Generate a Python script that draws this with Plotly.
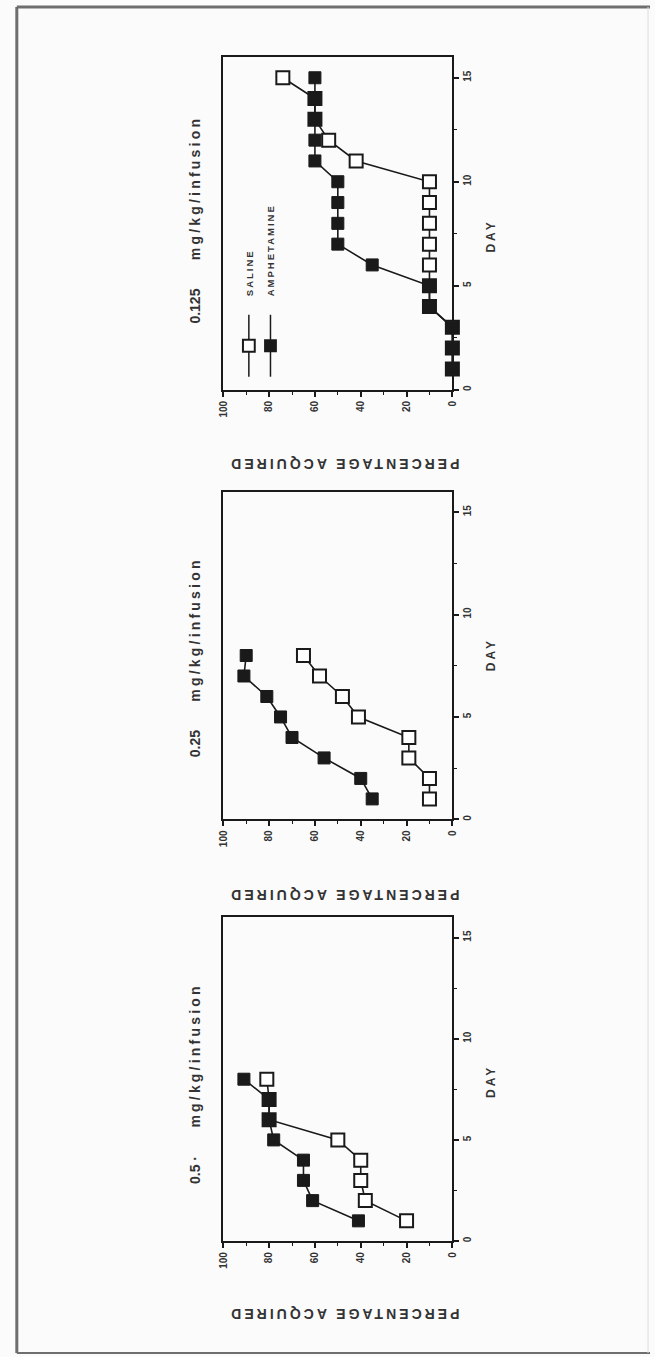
import plotly.graph_objects as go

# ---------------- data ----------------
days_125 = list(range(1, 16))
saline_125 = [0, 0, 0, 10, 10, 10, 10, 10, 10, 10, 42, 54, 60, 60, 74]
amph_125 = [0, 0, 0, 10, 10, 35, 50, 50, 50, 50, 60, 60, 60, 60, 60]

days_25 = list(range(1, 9))
saline_25 = [10, 10, 19, 19, 41, 48, 58, 65]
amph_25 = [35, 40, 56, 70, 75, 81, 91, 90]

days_5 = list(range(1, 9))
saline_5 = [20, 38, 40, 40, 50, 80, 80, 81]
amph_5 = [41, 61, 65, 65, 78, 80, 80, 91]

dose_labels = ["0.125", "0.25", "0.5 \u00b7"]
series_names = ["SALINE", "AMPHETAMINE"]
pct_title = "PERCENTAGE ACQUIRED"
day_title = "DAY"
unit_label = "mg/kg/infusion"

# ---------------- layout helpers ----------------
W, H = 655, 1357
def px(x):
    return x / W
def py(y):
    return 1 - y / H

INK = "#1a1a1a"
TXT = "#333333"
BG = "#fbfbfb"
FONT = "Liberation Sans, Arial, sans-serif"

def bold(s, spacing=0):
    style = "font-weight:bold;"
    if spacing:
        style += "letter-spacing:%gpx;" % spacing
    return '<span style="%s">%s</span>' % (style, s)

# panel boxes in pixels: (top, bottom)
boxes = [(57, 390), (492, 820), (918, 1242)]
x_left, x_right = 221, 454

panels = [
    (days_125, saline_125, amph_125),
    (days_25, saline_25, amph_25),
    (days_5, saline_5, amph_5),
]

pct_ticks = [0, 20, 40, 60, 80, 100]
day_ticks = [0, 5, 10, 15]

fig = go.Figure()
layout_axes = {}
for i, (days, sal, amp) in enumerate(panels):
    n = "" if i == 0 else str(i + 1)
    xa, ya = "x" + n, "y" + n
    fig.add_trace(go.Scatter(
        x=sal, y=days, xaxis=xa, yaxis=ya, mode="lines+markers",
        name=series_names[0], showlegend=False, cliponaxis=False,
        line=dict(color=INK, width=1.6),
        marker=dict(symbol="square", size=13, color="white",
                    line=dict(color=INK, width=2)),
    ))
    fig.add_trace(go.Scatter(
        x=amp, y=days, xaxis=xa, yaxis=ya, mode="lines+markers",
        name=series_names[1], showlegend=False, cliponaxis=False,
        line=dict(color=INK, width=1.6),
        marker=dict(symbol="square", size=12, color=INK,
                    line=dict(color=INK, width=1)),
    ))
    top, bot = boxes[i]
    layout_axes["xaxis" + n] = dict(
        domain=[px(x_left), px(x_right)], range=[100, 0], anchor=ya,
        showline=True, mirror=True, linecolor=INK, linewidth=2.2,
        ticks="outside", ticklen=5, tickwidth=1.6, tickcolor=INK,
        tickmode="array", tickvals=pct_ticks,
        ticktext=[bold(str(v)) for v in pct_ticks], tickangle=-90,
        tickfont=dict(family=FONT, size=10, color=TXT),
        minor=dict(dtick=10, ticks="outside", ticklen=3, tickwidth=1.2, tickcolor=INK),
        showgrid=False, zeroline=False,
    )
    layout_axes["yaxis" + n] = dict(
        domain=[py(bot), py(top)], range=[0, 16], anchor=xa, side="right",
        showline=True, mirror=True, linecolor=INK, linewidth=2.2,
        ticks="outside", ticklen=5, tickwidth=1.6, tickcolor=INK,
        tickmode="array", tickvals=day_ticks,
        ticktext=[bold(str(v)) for v in day_ticks], tickangle=-90,
        tickfont=dict(family=FONT, size=10, color=TXT),
        minor=dict(dtick=2.5, ticks="outside", ticklen=3, tickwidth=1.2, tickcolor=INK),
        showgrid=False, zeroline=False,
    )

annotations = []
# panel titles (rotated, reading bottom to top)
title_centers = [220, 658, 1084]
for lab, cy in zip(dose_labels, title_centers):
    annotations.append(dict(
        x=px(192), y=py(cy), xref="paper", yref="paper",
        text=bold(lab) + bold("\u00a0\u00a0\u00a0\u00a0" + unit_label, 3.2),
        textangle=-90, showarrow=False, xanchor="center", yanchor="middle",
        font=dict(family=FONT, size=14, color=TXT),
    ))
# percentage titles (upside down)
for cy in [465, 895, 1315]:
    annotations.append(dict(
        x=px(344), y=py(cy), xref="paper", yref="paper",
        text=bold(pct_title, 3),
        textangle=180, showarrow=False, xanchor="center", yanchor="middle",
        font=dict(family=FONT, size=14, color=TXT),
    ))
# day titles
for cy in [236, 655, 1082]:
    annotations.append(dict(
        x=px(493), y=py(cy), xref="paper", yref="paper",
        text=bold(day_title, 3),
        textangle=-90, showarrow=False, xanchor="center", yanchor="middle",
        font=dict(family=FONT, size=12, color=TXT),
    ))
# legend texts (top panel)
for lab, cx in zip(series_names, [247, 269]):
    annotations.append(dict(
        x=px(cx), y=py(298), xref="paper", yref="paper",
        text=bold(lab, 2),
        textangle=-90, showarrow=False, xanchor="center", yanchor="bottom",
        font=dict(family=FONT, size=9.5, color=TXT),
    ))

shapes = []
# legend glyphs
for cx, fill, s in [(247, "white", 12), (269, INK, 11)]:
    shapes.append(dict(type="line", xref="paper", yref="paper",
                       x0=px(cx), x1=px(cx), y0=py(315), y1=py(377),
                       line=dict(color=INK, width=1.5)))
    shapes.append(dict(type="rect", xref="paper", yref="paper",
                       x0=px(cx - s / 2), x1=px(cx + s / 2),
                       y0=py(346 + s / 2), y1=py(346 - s / 2),
                       fillcolor=fill, line=dict(color=INK, width=2)))
# outer frame
frame = "#6e6e6e"
shapes.append(dict(type="line", xref="paper", yref="paper", x0=px(11), x1=px(11),
                   y0=py(7), y1=py(1354), line=dict(color=frame, width=3)))
shapes.append(dict(type="line", xref="paper", yref="paper", x0=px(11), x1=px(655),
                   y0=py(7), y1=py(7), line=dict(color=frame, width=3)))
shapes.append(dict(type="line", xref="paper", yref="paper", x0=px(11), x1=px(655),
                   y0=py(1354), y1=py(1354), line=dict(color=frame, width=2)))
shapes.append(dict(type="line", xref="paper", yref="paper", x0=px(653), x1=px(653),
                   y0=py(7), y1=py(1354), line=dict(color="#dddddd", width=1)))

fig.update_layout(
    width=W, height=H, margin=dict(l=0, r=0, t=0, b=0),
    paper_bgcolor=BG, plot_bgcolor=BG,
    annotations=annotations, shapes=shapes, showlegend=False,
    **layout_axes,
)

fig.write_html("out.html")
